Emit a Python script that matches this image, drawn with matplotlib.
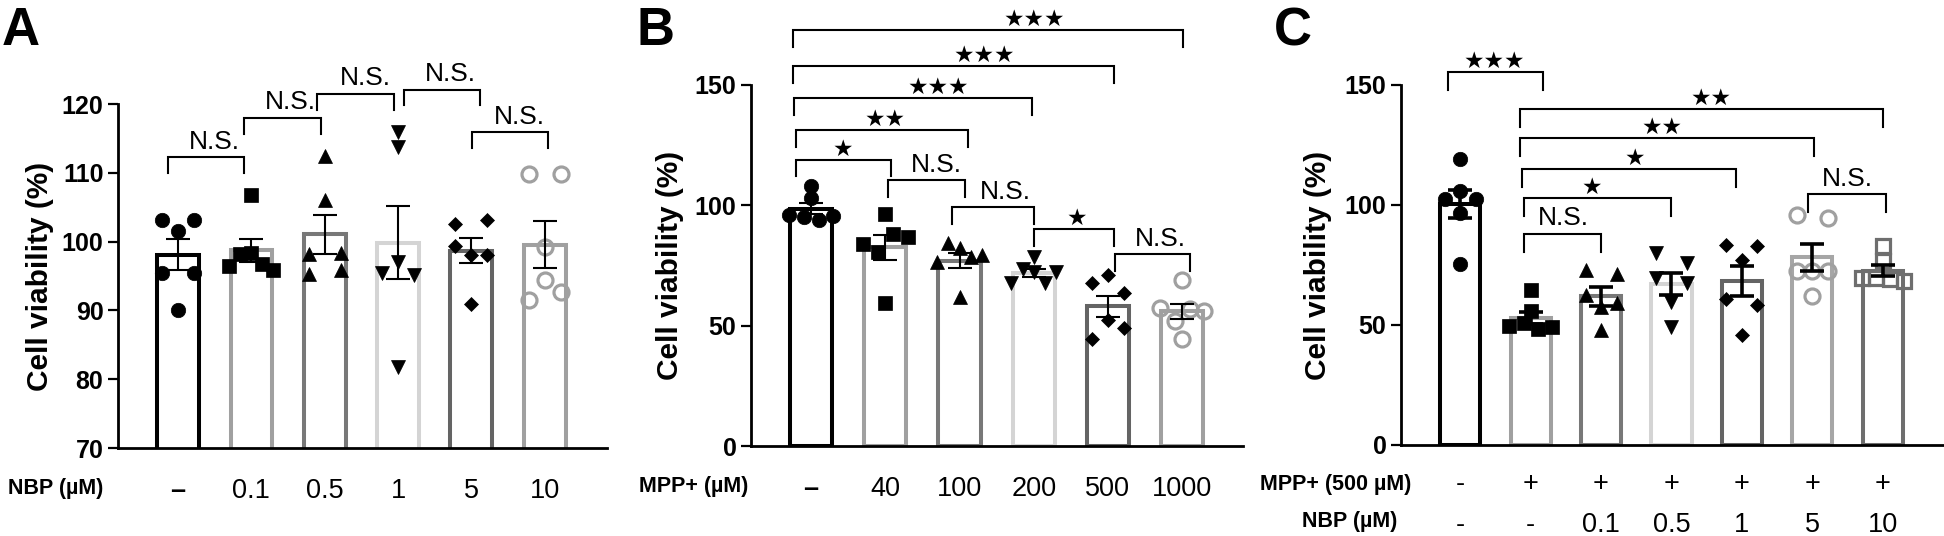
import numpy as np
import matplotlib
matplotlib.use("Agg")
import matplotlib.pyplot as plt
from matplotlib.transforms import blended_transform_factory

plt.rcParams['font.family'] = ['Liberation Sans', 'DejaVu Sans']

# ---------------- data ----------------
# Panel A: NBP alone
A_labels = ['–', '0.1', '0.5', '1', '5', '10']
A_ctrl = [103.2, 101.5, 103.2, 95.4, 95.4, 90.0]
A_nbp01 = [96.5, 98.2, 98.4, 96.7, 95.9, 106.8]
A_nbp05 = [112.5, 106.0, 98.2, 98.4, 95.3, 95.8]
A_nbp1 = [116.0, 113.8, 95.5, 97.0, 95.1, 81.8]
A_nbp5 = [102.6, 103.2, 99.4, 98.0, 98.0, 91.0]
A_nbp10 = [109.8, 109.8, 99.2, 91.5, 94.4, 92.7]

# Panel B: MPP+ dose
B_labels = ['–', '40', '100', '200', '500', '1000']
B_ctrl = [103.0, 108.0, 96.0, 95.0, 94.0, 95.5]
B_mpp40 = [96.5, 84.0, 80.5, 88.0, 87.0, 59.5]
B_mpp100 = [76.4, 84.2, 82.1, 78.5, 79.2, 62.0]
B_mpp200 = [67.8, 73.5, 72.5, 67.8, 78.5, 72.1]
B_mpp500 = [67.8, 70.9, 63.5, 44.4, 52.4, 49.1]
B_mpp1000 = [68.8, 57.5, 52.0, 57.0, 56.0, 44.5]

# Panel C: MPP+ (500 uM) + NBP
C_mpp_row = ['-', '+', '+', '+', '+', '+', '+']
C_nbp_row = ['-', '-', '0.1', '0.5', '1', '5', '10']
C_ctrl = [119.0, 102.3, 106.0, 102.3, 96.5, 75.5]
C_mpp = [64.5, 56.0, 49.5, 51.0, 48.5, 49.0]
C_nbp01 = [72.8, 71.3, 62.6, 57.5, 59.0, 48.1]
C_nbp05 = [80.0, 76.0, 69.5, 67.5, 59.5, 49.0]
C_nbp1 = [83.5, 83.0, 77.0, 61.0, 58.5, 46.0]
C_nbp5 = [95.7, 94.7, 72.4, 72.4, 72.4, 62.0]
C_nbp10 = [83.0, 76.5, 69.5, 69.5, 69.0, 68.5]

# significance brackets: (x1, x2, y, label, label_x)
A_brackets = [(-0.14, 0.90, 112.3, 'N.S.', 0.49),
              (0.90, 1.95, 118.0, 'N.S.', 1.53),
              (1.90, 2.94, 121.5, 'N.S.', 2.55),
              (3.08, 4.12, 122.1, 'N.S.', 3.72),
              (4.01, 5.05, 115.9, 'N.S.', 4.65)]
B_brackets = [(-0.21, 1.07, 119.0, '★', 0.42),
              (-0.21, 2.11, 131.3, '★★', 1.00),
              (-0.23, 2.98, 144.5, '★★★', 1.72),
              (-0.24, 4.08, 158.0, '★★★', 2.34),
              (-0.24, 5.01, 172.8, '★★★', 3.01),
              (1.04, 2.08, 110.5, 'N.S.', 1.69),
              (1.90, 3.01, 99.1, 'N.S.', 2.62),
              (3.00, 4.08, 90.3, '★', 3.58),
              (4.10, 5.10, 79.8, 'N.S.', 4.70)]
C_brackets = [(-0.17, 1.17, 155.4, '★★★', 0.48),
              (0.85, 6.00, 140.1, '★★', 3.56),
              (0.85, 5.03, 127.8, '★★', 2.86),
              (0.88, 3.92, 114.8, '★', 2.48),
              (0.91, 3.00, 102.8, '★', 1.87),
              (0.90, 2.00, 88.0, 'N.S.', 1.47),
              (4.94, 6.04, 104.6, 'N.S.', 5.50)]

# ---------------- styles ----------------
W, H = 1944, 536
fig = plt.figure(figsize=(W / 100, H / 100), dpi=100)


def rect(l, t, r, b):
    return [l / W, 1 - b / H, (r - l) / W, (b - t) / H]


def fy(py):
    return 1 - py / H


GRAY = '#a0a0a0'
DARK = '#787878'
LIGHT = '#d4d4d4'
DARKER = '#646464'
colsAB = ['#000000', GRAY, DARK, LIGHT, DARKER, GRAY]
colsC = ['#000000', GRAY, DARK, LIGHT, DARKER, '#a6a6a6', '#6e6e6e']
mk_AB = [('o', 'k', 'k'), ('s', 'k', 'k'), ('^', 'k', 'k'), ('v', 'k', 'k'),
         ('D', 'k', 'k'), ('o', 'none', GRAY)]
mk_C = mk_AB + [('s', 'none', '#6e6e6e')]
msize = {'o': 10.4, 's': 9.4, '^': 10.4, 'v': 10.4, 'D': 7.4}

NARROW = ['Liberation Sans', 'DejaVu Sans']
STARF = ['DejaVu Sans']


def swarm_offsets(vals, ppu, diam=12.0, step=0.22, maxh=0.3):
    vals = np.asarray(vals, float)
    order = np.argsort(vals, kind='stable')
    off = np.zeros(len(vals))
    clusters, cur = [], [order[0]]
    for i in order[1:]:
        if (vals[i] - vals[cur[-1]]) * ppu < diam:
            cur.append(i)
        else:
            clusters.append(cur)
            cur = [i]
    clusters.append(cur)
    for c in clusters:
        n = len(c)
        if n < 2:
            continue
        h = min(step * max(n - 1, 2) / 2, maxh)
        pos = np.linspace(-h, h, n)
        for k, idx in enumerate(sorted(c)):
            off[idx] = pos[k]
    return off


def draw_panel(ax, groups, colors, marks, ylim, yticks, xlim, ppu, ebw,
               brackets, leg):
    x = np.arange(len(groups))
    means = np.array([np.mean(g) for g in groups])
    sems = np.array([np.std(g, ddof=1) / np.sqrt(len(g)) for g in groups])
    ax.bar(x, means, width=0.57, facecolor='white', edgecolor=colors,
           linewidth=2.9, zorder=1)
    for i, g in enumerate(groups):
        off = swarm_offsets(g, ppu)
        m, fc, ec = marks[i]
        ms = msize[m] + (0.4 if fc == 'none' else 0)
        ax.plot(i + off, g, linestyle='none', marker=m, ms=ms, mfc=fc,
                mec=ec, mew=2.3 if fc == 'none' else 0.5, zorder=3)
    ax.errorbar(x, means, yerr=sems, fmt='none', ecolor='black',
                elinewidth=ebw, capsize=8.6, capthick=ebw, zorder=4)
    ax.set_xlim(*xlim)
    ax.set_ylim(*ylim)
    ax.set_yticks(yticks)
    ax.set_xticks([])
    for s in ['top', 'right']:
        ax.spines[s].set_visible(False)
    for s in ['left', 'bottom']:
        ax.spines[s].set_linewidth(2.0)
    ax.tick_params(axis='y', length=7.5, width=1.6, pad=3, labelsize=18)
    for lab in ax.get_yticklabels():
        lab.set_fontweight('bold')
        lab.set_family(NARROW)
    for (x1, x2, y, lab, lx) in brackets:
        ax.plot([x1, x1, x2, x2], [y - leg, y, y, y - leg], color='black',
                lw=1.5, clip_on=False, zorder=5, solid_joinstyle='miter')
        if '★' in lab:
            ax.annotate(lab, (lx, y), xytext=(0, 3), textcoords='offset points',
                        ha='center', va='baseline', fontsize=16.5,
                        family=STARF, annotation_clip=False)
        else:
            ax.annotate(lab, (lx, y), xytext=(0, 6), textcoords='offset points',
                        ha='center', va='baseline', fontsize=19,
                        family=NARROW, annotation_clip=False)


def row_labels(ax, labels, base_px, size=19.5):
    tr = blended_transform_factory(ax.transData, fig.transFigure)
    for i, t in enumerate(labels):
        ax.text(i, fy(base_px), t, transform=tr, ha='center', va='baseline',
                fontsize=size, family=NARROW,
                fontweight='bold' if t == '–' else 'normal')


axA = fig.add_axes(rect(118, 104, 607, 448))
axB = fig.add_axes(rect(751, 85, 1243, 446))
axC = fig.add_axes(rect(1401, 85, 1944, 445))

draw_panel(axA, [A_ctrl, A_nbp01, A_nbp05, A_nbp1, A_nbp5, A_nbp10], colsAB,
           mk_AB, (70, 120), [70, 80, 90, 100, 110, 120], (-0.82, 5.85),
           6.88, 1.5, A_brackets, 2.3)
draw_panel(axB, [B_ctrl, B_mpp40, B_mpp100, B_mpp200, B_mpp500, B_mpp1000],
           colsAB, mk_AB, (0, 150), [0, 50, 100, 150], (-0.81, 5.82),
           2.41, 1.5, B_brackets, 7.0)
draw_panel(axC, [C_ctrl, C_mpp, C_nbp01, C_nbp05, C_nbp1, C_nbp5, C_nbp10],
           colsC, mk_C, (0, 150), [0, 50, 100, 150], (-0.84, 6.87),
           2.40, 2.6, C_brackets, 7.5)

row_labels(axA, A_labels, 498)
row_labels(axB, B_labels, 496)
row_labels(axC, C_mpp_row, 491)
row_labels(axC, C_nbp_row, 532)

bold15 = dict(fontsize=15.5, fontweight='bold', family=NARROW, va='baseline')
fig.text(8 / W, fy(494), 'NBP (µM)', ha='left', **bold15)
fig.text(748 / W, fy(492), 'MPP+ (µM)', ha='right', **bold15)
fig.text(1411 / W, fy(490), 'MPP+ (500 µM)', ha='right', **bold15)
fig.text(1397 / W, fy(527), 'NBP (µM)', ha='right', **bold15)

ylab = dict(fontsize=21.5, fontweight='bold', family=NARROW, rotation=90,
            ha='center', va='center')
fig.text(40 / W, fy(276), 'Cell viability (%)', **ylab)
fig.text(670 / W, fy(265.5), 'Cell viability (%)', **ylab)
fig.text(1318 / W, fy(265), 'Cell viability (%)', **ylab)

letter = dict(fontsize=38, fontweight='bold', family=NARROW, ha='left',
              va='top')
fig.text(2 / W, fy(6), 'A', **letter)
fig.text(636 / W, fy(6), 'B', **letter)
fig.text(1274 / W, fy(6), 'C', **letter)

fig.savefig('out.png', dpi=100)
